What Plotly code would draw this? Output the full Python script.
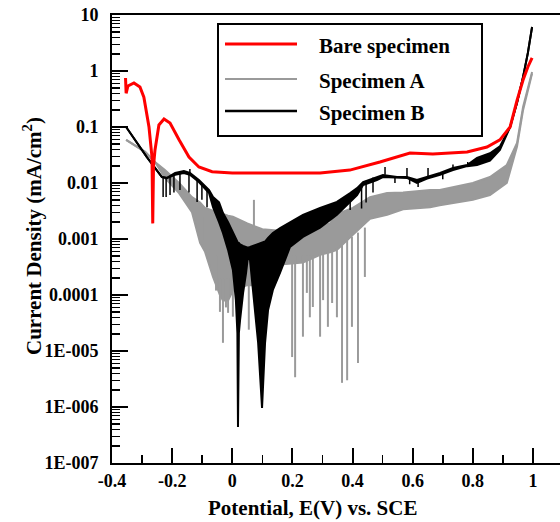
import plotly.graph_objects as go

# ---------------- data ----------------
# Potential E (V vs SCE) and current density (mA/cm^2)

bare_E = [-0.355, -0.353, -0.347, -0.327, -0.307, -0.294, -0.277, -0.267, -0.2645, -0.262,
          -0.257, -0.244, -0.227, -0.207, -0.177, -0.144, -0.111, -0.067, 0.0, 0.192,
          0.292, 0.391, 0.491, 0.591, 0.667, 0.781, 0.847, 0.890, 0.924, 0.947,
          0.967, 0.983, 0.997]
bare_I = [0.75, 0.40, 0.54, 0.61, 0.52, 0.34, 0.10, 0.029, 0.0019, 0.02,
          0.039, 0.109, 0.139, 0.118, 0.059, 0.029, 0.0193, 0.0159, 0.0151, 0.0151,
          0.0151, 0.0170, 0.0237, 0.0344, 0.033, 0.0358, 0.044, 0.059, 0.10, 0.30,
          0.69, 1.18, 1.71]

# Specimen A: upper / lower edge of the noisy band
specA_E = [-0.353, -0.290, -0.257, -0.224, -0.177, -0.134, -0.107, -0.091, -0.064, -0.041,
           -0.031, -0.014, 0.002, 0.05, 0.10, 0.159, 0.235, 0.292, 0.325, 0.348,
           0.401, 0.458, 0.515, 0.568, 0.658, 0.69, 0.80, 0.857, 0.913, 0.947,
           0.967, 0.997]
specA_hi = [0.059, 0.036, 0.0237, 0.017, 0.0100, 0.0056, 0.0045, 0.0036, 0.0032, 0.0029,
            0.0028, 0.0026, 0.0025, 0.0019, 0.0015, 0.0014, 0.0015, 0.0017, 0.0019, 0.0028,
            0.0036, 0.0056, 0.0066, 0.0068, 0.0075, 0.0075, 0.0100, 0.0128, 0.021, 0.052,
            0.228, 0.96]
specA_lo = [0.059, 0.036, 0.0237, 0.0123, 0.0066, 0.0030, 0.00085, 0.0006, 0.00021, 0.00010,
            8e-5, 8e-5, 1.2e-4, 1.5e-4, 1.5e-4, 3.5e-4, 3.8e-4, 5.2e-4, 5.8e-4, 6.4e-4,
            0.00119, 0.0023, 0.0027, 0.0034, 0.0037, 0.0040, 0.0050, 0.0061, 0.0100, 0.045,
            0.2, 0.9]
# Specimen A: spikes (potential, start, end)
specA_spike_E = [-0.091, -0.074, -0.054, -0.041, -0.031, -0.021, -0.014, 0.002, 0.055, 0.072,
                 0.082, 0.199, 0.209, 0.235, 0.248, 0.258, 0.268, 0.292, 0.302, 0.318,
                 0.332, 0.348, 0.365, 0.382, 0.398, 0.418, 0.441]
specA_spike_top = [0.0025, 0.0015, 0.0005, 0.0002, 0.0002, 0.0002, 0.0002, 0.0002, 0.0005, 0.005,
                   0.0005, 0.0005, 0.0005, 0.0005, 0.0005, 0.0005, 0.0005, 0.0006, 0.0006, 0.0006,
                   0.0006, 0.0007, 0.0009, 0.001, 0.0011, 0.0013, 0.0016]
specA_spike_end = [0.00096, 0.00064, 1.2e-4, 5e-5, 1.4e-5, 6e-5, 4.8e-5, 4.1e-5, 2.4e-5, 0.0015,
                   3e-5, 7.8e-6, 3.4e-6, 1.8e-5, 1.09e-4, 4.0e-5, 6.1e-5, 1.8e-5, 8.1e-5, 2.7e-5,
                   7.2e-5, 4.0e-5, 2.7e-6, 3.0e-6, 2.7e-5, 6.1e-6, 2.1e-4]

# Specimen B: upper / lower edge of the noisy band
specB_E = [-0.353, -0.284, -0.234, -0.217, -0.190, -0.161, -0.141, -0.111, -0.077, -0.064,
           -0.044, -0.031, -0.014, 0.002, 0.012, 0.017, 0.019, 0.022, 0.026, 0.036,
           0.046, 0.052, 0.059, 0.069, 0.086, 0.099, 0.109, 0.119, 0.135, 0.159,
           0.192, 0.235, 0.292, 0.348, 0.392, 0.415, 0.435, 0.481, 0.501, 0.548,
           0.581, 0.614, 0.648, 0.691, 0.734, 0.781, 0.814, 0.857, 0.890, 0.924,
           0.947, 0.967, 0.983, 0.997]
specB_hi = [0.10, 0.029, 0.0128, 0.0123, 0.0151, 0.0164, 0.0151, 0.0113, 0.0075, 0.0056,
            0.0045, 0.0029, 0.0020, 0.00128, 0.00096, 0.0009, 0.00085, 0.00085, 0.0008, 0.00075,
            0.00072, 0.0007, 0.00072, 0.00075, 0.0008, 0.00085, 0.0009, 0.00105, 0.00128, 0.00157,
            0.0020, 0.0027, 0.0036, 0.0046, 0.0066, 0.0081, 0.0104, 0.0128, 0.0139, 0.0128,
            0.0128, 0.0113, 0.0128, 0.0151, 0.0185, 0.021, 0.028, 0.034, 0.045, 0.10,
            0.27, 0.78, 2.1, 6.1]
specB_lo = [0.10, 0.029, 0.0128, 0.0123, 0.014, 0.015, 0.014, 0.0104, 0.0066, 0.0037,
            0.0020, 0.00128, 0.00064, 0.00028, 8.1e-5, 2.1e-5, 4.4e-7, 2.1e-5, 3.6e-5, 1.09e-4,
            2.5e-4, 4.8e-4, 4.2e-4, 1.09e-4, 1.4e-5, 9.6e-7, 1.4e-5, 5.4e-5, 1.23e-4, 2.5e-4,
            7.2e-4, 1.09e-3, 1.6e-3, 2.7e-3, 4.6e-3, 6.1e-3, 9.2e-3, 0.0113, 0.0128, 0.0123,
            0.0123, 0.0100, 0.012, 0.014, 0.017, 0.020, 0.021, 0.025, 0.039, 0.10,
            0.27, 0.78, 2.1, 6.1]
# Specimen B: spikes (potential, start, end)
specB_spike_E = [-0.230, -0.220, -0.207, -0.194, -0.174, -0.144, -0.141, -0.117, -0.101, -0.084,
                 0.392, 0.430, 0.445, 0.468, 0.508, 0.541, 0.581, 0.590, 0.618, 0.651,
                 0.700, 0.734, 0.783]
specB_spike_top = [0.0128, 0.0123, 0.013, 0.0145, 0.016, 0.0155, 0.0151, 0.012, 0.010, 0.008,
                   0.0066, 0.0095, 0.011, 0.0125, 0.0193, 0.013, 0.0185, 0.0125, 0.011, 0.0185,
                   0.015, 0.0213, 0.0237]
specB_spike_end = [0.0056, 0.0056, 0.0061, 0.0068, 0.0075, 0.0068, 0.0178, 0.0046, 0.0050, 0.0037,
                   0.0033, 0.0035, 0.0045, 0.0068, 0.014, 0.0100, 0.0128, 0.0095, 0.0085, 0.0128,
                   0.0117, 0.018, 0.021]

x_ticks = [-0.4, -0.2, 0, 0.2, 0.4, 0.6, 0.8, 1]
x_labels = ["-0.4", "-0.2", "0", "0.2", "0.4", "0.6", "0.8", "1"]
y_ticks = [1e-7, 1e-6, 1e-5, 1e-4, 1e-3, 1e-2, 1e-1, 1, 10]
y_labels = ["1E-007", "1E-006", "1E-005", "0.0001", "0.001", "0.01", "0.1", "1", "10"]

series_names = ["Bare specimen", "Specimen A", "Specimen B"]

RED = "#ff0000"
GRAY = "#9a9a9a"
BLACK = "#000000"
FONT = "Liberation Serif"

# ---------------- figure ----------------
fig = go.Figure()


def spikes(E, top, end):
    xs, ys = [], []
    for e, t, b in zip(E, top, end):
        xs += [e, e, None]
        ys += [t, b, None]
    return xs, ys


# Specimen A band + spikes
fig.add_trace(go.Scatter(x=specA_E, y=specA_hi, mode="lines", line=dict(color=GRAY, width=2),
                         name=series_names[1], hoverinfo="skip"))
fig.add_trace(go.Scatter(x=specA_E, y=specA_lo, mode="lines", line=dict(color=GRAY, width=2),
                         fill="tonexty", fillcolor=GRAY, name=series_names[1], hoverinfo="skip"))
sx, sy = spikes(specA_spike_E, specA_spike_top, specA_spike_end)
fig.add_trace(go.Scatter(x=sx, y=sy, mode="lines", line=dict(color=GRAY, width=2),
                         name=series_names[1], hoverinfo="skip"))

# Specimen B band + spikes
fig.add_trace(go.Scatter(x=specB_E, y=specB_hi, mode="lines", line=dict(color=BLACK, width=2),
                         name=series_names[2], hoverinfo="skip"))
fig.add_trace(go.Scatter(x=specB_E, y=specB_lo, mode="lines", line=dict(color=BLACK, width=2),
                         fill="tonexty", fillcolor=BLACK, name=series_names[2], hoverinfo="skip"))
sx, sy = spikes(specB_spike_E, specB_spike_top, specB_spike_end)
fig.add_trace(go.Scatter(x=sx, y=sy, mode="lines", line=dict(color=BLACK, width=1.5),
                         name=series_names[2], hoverinfo="skip"))

# Bare specimen
fig.add_trace(go.Scatter(x=bare_E, y=bare_I, mode="lines", line=dict(color=RED, width=3),
                         name=series_names[0], hoverinfo="skip"))

# ---------------- layout ----------------
L, R, T, B = 112, 0, 15, 59
W, H = 560, 522
PW, PH = W - L - R, H - T - B


def px_x(px):
    return (px - L) / PW


def px_y(py):
    return (T + PH - py) / PH


fig.update_layout(
    width=W, height=H,
    margin=dict(l=L, r=R, t=T, b=B, autoexpand=False),
    paper_bgcolor="white", plot_bgcolor="white",
    showlegend=False,
    font=dict(family=FONT, size=18, color="black"),
)

fig.update_xaxes(
    range=[-0.4, 1.0899], automargin=False,
    tickmode="array", tickvals=x_ticks, ticktext=x_labels,
    ticks="inside", ticklen=15, tickwidth=2, tickcolor="black",
    showline=True, linewidth=2, linecolor="black", mirror=True,
    showgrid=False, zeroline=False,
    tickfont=dict(family=FONT, size=18, color="black", weight="bold"),
    ticklabelstandoff=0,
    minor=dict(tickmode="array", tickvals=[-0.3, -0.1, 0.1, 0.3, 0.5, 0.7, 0.9],
               ticks="inside", ticklen=8, tickwidth=1.5, tickcolor="black", showgrid=False),
)

minor_y = [k * 10.0 ** d for d in range(-7, 1) for k in range(2, 10)]
fig.update_yaxes(
    type="log", range=[-7, 1], automargin=False,
    tickmode="array", tickvals=y_ticks, ticktext=y_labels,
    ticks="inside", ticklen=16, tickwidth=2, tickcolor="black",
    showline=True, linewidth=2, linecolor="black",
    showgrid=False, zeroline=False,
    tickfont=dict(family=FONT, size=18, color="black", weight="bold"),
    ticklabelstandoff=8,
    minor=dict(tickmode="array", tickvals=minor_y,
               ticks="inside", ticklen=8, tickwidth=1.5, tickcolor="black", showgrid=False),
)

annotations = [
    dict(text="Potential, E(V) vs. SCE", x=px_x(312), y=px_y(508), xref="paper", yref="paper",
         showarrow=False, xanchor="center", yanchor="middle",
         font=dict(family=FONT, size=21, color="black", weight="bold")),
    dict(text="Current Density (mA/cm<sup>2</sup>)", x=px_x(32), y=px_y(236),
         xref="paper", yref="paper", showarrow=False, textangle=-90,
         xanchor="center", yanchor="middle",
         font=dict(family=FONT, size=21, color="black", weight="bold")),
]

# legend drawn as a boxed key
legend_rows_y = [44, 79, 111]
legend_colors = [RED, GRAY, BLACK]
legend_widths = [3, 2, 2.5]
shapes = [dict(type="rect", xref="paper", yref="paper",
               x0=px_x(218), x1=px_x(482), y0=px_y(24), y1=px_y(136),
               line=dict(color="black", width=2), fillcolor="white", layer="above")]
for name, yy, col, lw in zip(series_names, legend_rows_y, legend_colors, legend_widths):
    shapes.append(dict(type="line", xref="paper", yref="paper",
                       x0=px_x(225), x1=px_x(297), y0=px_y(yy), y1=px_y(yy),
                       line=dict(color=col, width=lw), layer="above"))
    annotations.append(dict(text=name, x=px_x(317), y=px_y(yy + 2), xref="paper", yref="paper",
                            showarrow=False, xanchor="left", yanchor="middle",
                            font=dict(family=FONT, size=21, color="black", weight="bold")))

fig.update_layout(shapes=shapes, annotations=annotations)

fig.write_html("out.html",
               config={"displayModeBar": False, "staticPlot": True},
               post_script="document.body.style.margin='0';document.body.style.overflow='hidden';")
